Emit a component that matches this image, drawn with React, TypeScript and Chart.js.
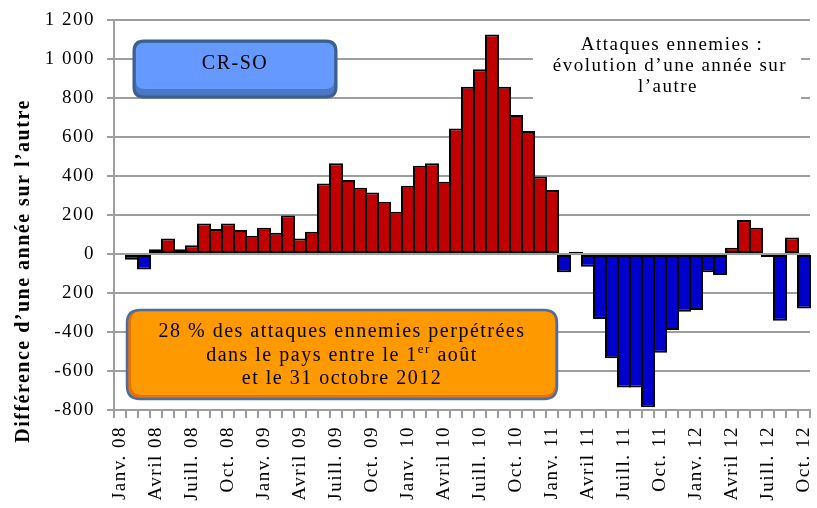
import React, { useEffect, useRef } from "react";
import { Chart, registerables } from "chart.js";

Chart.register(...registerables);

const MONTHS = ["Janv.", "Févr.", "Mars", "Avril", "Mai", "Juin", "Juill.", "Août", "Sept.", "Oct.", "Nov.", "Déc."];
const YEARS = ["08", "09", "10", "11", "12"];
const MONTH_COUNT = 58; // Janv. 08 .. Oct. 12
const CATEGORIES: string[] = [];
for (let i = 0; i < MONTH_COUNT; i++) {
  CATEGORIES.push(MONTHS[i % 12] + " " + YEARS[Math.floor(i / 12)]);
}

// Year-on-year difference per month
const VALUES = [
  5, -30, -80, 25, 80, 25, 45, 157, 128, 157, 123, 94,
  135, 109, 197, 80, 114, 362, 465, 380, 340, 315, 268, 217,
  350, 453, 465, 371, 644, 858, 947, 1126, 858, 713, 631, 397,
  328, -94, 12, -65, -333, -535, -685, -685, -786, -506, -390, -296,
  -287, -94, -108, 32, 174, 135, -15, -342, 85, -279,
];

// Only every third month is labelled
const SHOWN_LABELS = [
  "Janv. 08", "Avril 08", "Juill. 08", "Oct. 08",
  "Janv. 09", "Avril 09", "Juill. 09", "Oct. 09",
  "Janv. 10", "Avril 10", "Juill. 10", "Oct. 10",
  "Janv. 11", "Avril 11", "Juill. 11", "Oct. 11",
  "Janv. 12", "Avril 12", "Juill. 12", "Oct. 12",
];

const Y_TICK_VALUES = [1200, 1000, 800, 600, 400, 200, 0, -200, -400, -600, -800];
const Y_TICK_LABELS = ["1 200", "1 000", "800", "600", "400", "200", "0", "200", "-400", "-600", "-800"];

const Y_TITLE = "Différence d’une année sur l’autre";
const CORNER_TITLE = ["Attaques ennemies :", "évolution d’une année sur", "l’autre"];
const BADGE = "CR-SO";
const NOTE_LINE1 = "28 % des attaques ennemies perpétrées";
const NOTE_LINE2_A = "dans le pays entre le 1";
const NOTE_LINE2_SUP = "er";
const NOTE_LINE2_B = " août";
const NOTE_LINE3 = "et le 31 octobre 2012";

const SERIF = "'Liberation Serif', 'Times New Roman', serif";
const RED = "#C00000";
const BLUE = "#0000CC";
const GRID = "#9E9E9E";

function roundRectPath(ctx: CanvasRenderingContext2D, x: number, y: number, w: number, h: number, r: number) {
  ctx.beginPath();
  ctx.moveTo(x + r, y);
  ctx.lineTo(x + w - r, y);
  ctx.quadraticCurveTo(x + w, y, x + w, y + r);
  ctx.lineTo(x + w, y + h - r);
  ctx.quadraticCurveTo(x + w, y + h, x + w - r, y + h);
  ctx.lineTo(x + r, y + h);
  ctx.quadraticCurveTo(x, y + h, x, y + h - r);
  ctx.lineTo(x, y + r);
  ctx.quadraticCurveTo(x, y, x + r, y);
  ctx.closePath();
}

const spacingPlugin = {
  id: "spacing",
  beforeDraw(chart: any) {
    (chart.ctx as any).letterSpacing = "1.5px";
  },
};

const overlayPlugin = {
  id: "overlay",
  afterDraw(chart: any) {
    const ctx: CanvasRenderingContext2D = chart.ctx;
    ctx.save();
    (ctx as any).letterSpacing = "1.5px";
    ctx.fillStyle = "#000";

    // Y axis title
    ctx.save();
    ctx.translate(24, 271);
    ctx.rotate(-Math.PI / 2);
    ctx.font = "bold 20px " + SERIF;
    ctx.textAlign = "center";
    ctx.textBaseline = "middle";
    ctx.fillText(Y_TITLE, 0, 0);
    ctx.restore();

    // CR-SO badge
    roundRectPath(ctx, 134, 41, 202, 56, 10);
    ctx.fillStyle = "#4A78C4";
    ctx.fill();
    roundRectPath(ctx, 136, 43, 198, 46, 8);
    ctx.fillStyle = "#6699FF";
    ctx.fill();
    roundRectPath(ctx, 134, 41, 202, 56, 10);
    ctx.strokeStyle = "#3B5F8F";
    ctx.lineWidth = 3;
    ctx.stroke();
    ctx.fillStyle = "#000";
    ctx.font = "20px " + SERIF;
    ctx.textAlign = "center";
    ctx.textBaseline = "middle";
    ctx.fillText(BADGE, 235, 64);

    // Corner title (white box)
    ctx.fillStyle = "#FFFFFF";
    ctx.fillRect(533, 30, 268, 84);
    ctx.fillStyle = "#000";
    ctx.font = "19px " + SERIF;
    ctx.fillText(CORNER_TITLE[0], 672, 45);
    ctx.fillText(CORNER_TITLE[1], 670, 66);
    ctx.fillText(CORNER_TITLE[2], 668, 87);

    // Orange note box
    roundRectPath(ctx, 127, 310, 430, 89, 13);
    ctx.fillStyle = "#E3720A";
    ctx.fill();
    roundRectPath(ctx, 131, 311, 424, 84, 11);
    ctx.fillStyle = "#FF9900";
    ctx.fill();
    roundRectPath(ctx, 127, 310, 430, 89, 13);
    ctx.strokeStyle = "#4D6E9C";
    ctx.lineWidth = 2.5;
    ctx.stroke();

    ctx.fillStyle = "#000";
    ctx.font = "20px " + SERIF;
    ctx.textAlign = "center";
    ctx.fillText(NOTE_LINE1, 342, 332);
    // second line with superscript
    ctx.textAlign = "left";
    const wA = ctx.measureText(NOTE_LINE2_A).width;
    const wB = ctx.measureText(NOTE_LINE2_B).width;
    ctx.font = "13px " + SERIF;
    const wS = ctx.measureText(NOTE_LINE2_SUP).width;
    const total = wA + wS + wB;
    let x = 342 - total / 2;
    ctx.font = "20px " + SERIF;
    ctx.fillText(NOTE_LINE2_A, x, 356);
    x += wA;
    ctx.font = "13px " + SERIF;
    ctx.fillText(NOTE_LINE2_SUP, x, 350);
    x += wS;
    ctx.font = "20px " + SERIF;
    ctx.fillText(NOTE_LINE2_B, x, 356);
    ctx.textAlign = "center";
    ctx.fillText(NOTE_LINE3, 342, 379);

    ctx.restore();
    (ctx as any).letterSpacing = "0px";
  },
};

export default function App() {
  const ref = useRef<HTMLCanvasElement>(null);

  useEffect(() => {
    const canvas = ref.current;
    if (!canvas) return;
    const chart = new Chart(canvas, {
      type: "bar",
      data: {
        labels: CATEGORIES,
        datasets: [
          {
            data: VALUES,
            backgroundColor: VALUES.map((v) => (v >= 0 ? RED : BLUE)),
            borderColor: "#000000",
            borderWidth: 2,
            borderSkipped: false,
            barPercentage: 14 / 12,
            categoryPercentage: 1,
            inflateAmount: 0,
            clip: false,
          },
        ],
      },
      options: {
        responsive: false,
        animation: false,
        devicePixelRatio: 1,
        layout: { padding: { top: 20, right: 7, left: 0, bottom: 0 } },
        plugins: {
          legend: { display: false },
          tooltip: { enabled: false },
          title: { display: false },
        },
        scales: {
          x: {
            offset: true,
            grid: {
              display: true,
              offset: true,
              drawOnChartArea: false,
              drawTicks: true,
              tickLength: 8,
              color: GRID,
              lineWidth: 2,
            },
            border: { display: true, color: GRID, width: 2 },
            ticks: {
              autoSkip: false,
              minRotation: 90,
              maxRotation: 90,
              padding: 8,
              color: "#000",
              font: { family: SERIF, size: 19 },
              callback: (_v: any, i: number) => (i % 3 === 0 ? SHOWN_LABELS[i / 3] : ""),
            },
            afterFit: (s: any) => {
              s.height = 98;
              s.paddingLeft = 0;
              s.paddingRight = 0;
            },
          },
          y: {
            min: -800,
            max: 1200,
            afterBuildTicks: (s: any) => {
              s.ticks = Y_TICK_VALUES.map((v) => ({ value: v }));
            },
            grid: {
              color: GRID,
              lineWidth: 2,
              drawTicks: true,
              tickLength: 7,
            },
            border: { display: true, color: GRID, width: 2 },
            ticks: {
              padding: 12,
              color: "#000",
              font: { family: SERIF, size: 19 },
              callback: (v: any) => {
                const idx = Y_TICK_VALUES.indexOf(Number(v));
                return idx >= 0 ? Y_TICK_LABELS[idx] : "";
              },
            },
            afterFit: (s: any) => {
              s.width = 114;
              s.paddingTop = 0;
              s.paddingBottom = 0;
            },
          },
        },
      },
      plugins: [spacingPlugin, overlayPlugin],
    } as any);
    return () => chart.destroy();
  }, []);

  return (
    <div style={{ position: "absolute", left: 0, top: 0, width: 817, height: 508, background: "#fff" }}>
      <canvas ref={ref} width={817} height={508} style={{ display: "block" }} />
    </div>
  );
}
